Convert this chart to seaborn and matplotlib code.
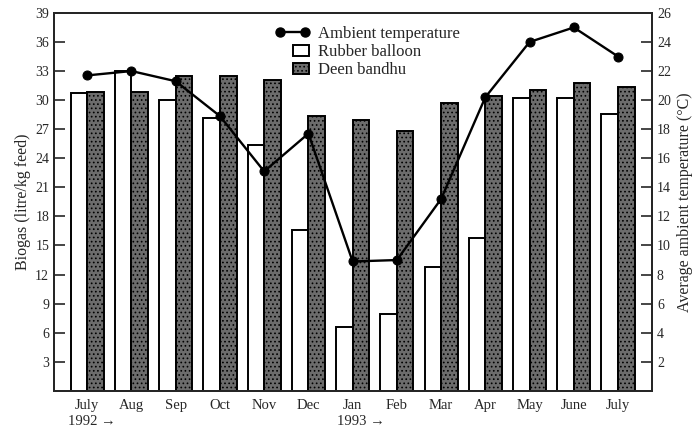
import numpy as np
import pandas as pd
import seaborn as sns
import matplotlib.pyplot as plt
from matplotlib.patches import Patch, Rectangle
from matplotlib.lines import Line2D
from matplotlib.legend_handler import HandlerPatch

months = ["July", "Aug", "Sep", "Oct", "Nov", "Dec", "Jan",
          "Feb", "Mar", "Apr", "May", "June", "July"]
month_keys = [f"{m}_{i}" for i, m in enumerate(months)]

rubber_balloon = [30.7, 33.0, 30.0, 28.2, 25.4, 16.6, 6.6,
                  7.9, 12.8, 15.8, 30.2, 30.2, 28.6]
deen_bandhu = [30.8, 30.8, 32.5, 32.5, 32.1, 28.4, 28.0,
               26.8, 29.7, 30.4, 31.0, 31.8, 31.4]
temperature = [21.7, 22.0, 21.3, 18.9, 15.1, 17.7, 8.9,
               9.0, 13.2, 20.2, 24.0, 25.0, 23.0]

df = pd.DataFrame({
    "month": month_keys * 2,
    "biogas": rubber_balloon + deen_bandhu,
    "digester": ["Rubber balloon"] * 13 + ["Deen bandhu"] * 13,
})

GRAY = "#6c6c6c"

sns.set_style("ticks")
plt.rcParams["font.family"] = ["Liberation Serif", "DejaVu Serif"]
plt.rcParams["hatch.linewidth"] = 0.7
plt.rcParams["hatch.color"] = "#1e1e1e"

fig = plt.figure(figsize=(6.93, 4.30), dpi=100)
ax = fig.add_axes([0.078, 0.091, 0.863, 0.879])

sns.barplot(data=df, x="month", y="biogas", hue="digester",
            order=month_keys, hue_order=["Rubber balloon", "Deen bandhu"],
            palette=["white", GRAY], edgecolor="black", linewidth=1.4,
            width=0.75, ax=ax, legend=False)

for patch in ax.patches[13:26]:
    patch.set_hatch("....")

ax.set_xlim(-0.75, 12.77)
ax.set_ylim(0, 39)
ax.set_yticks(range(3, 40, 3))
ax.set_xticks(range(13))
ax.set_xticklabels(months, fontsize=10.5)
ax.tick_params(axis="y", direction="in", length=8, width=1.2, labelsize=10)
ax.tick_params(axis="x", length=0, pad=6)
ax.set_xlabel("")
ax.set_ylabel("Biogas (litre/kg feed)", fontsize=11.5, labelpad=3)
for s in ax.spines.values():
    s.set_linewidth(1.4)

ax2 = ax.twinx()
sns.lineplot(x=np.arange(13), y=temperature, color="black", marker="o",
             markersize=6.5, markeredgecolor="black", linewidth=1.7, ax=ax2,
             legend=False)
ax2.set_ylim(0, 26)
ax2.set_yticks(range(2, 27, 2))
ax2.tick_params(axis="y", direction="in", length=8, width=1.2, labelsize=10)
ax2.set_ylabel("Average ambient temperature (°C)", fontsize=11.5, labelpad=4)
for s in ax2.spines.values():
    s.set_linewidth(1.4)

# year markers under the month labels
xform = ax.get_xaxis_transform()
ax.text(-0.43, -0.063, "1992 \u2192", transform=xform, ha="left", va="top",
        fontsize=10.5)
ax.text(5.65, -0.063, "1993 \u2192", transform=xform, ha="left", va="top",
        fontsize=10.5)


def small_box(legend, orig_handle, xdescent, ydescent, width, height, fontsize):
    w = height * 1.4
    return Rectangle((width - w - width * 0.02, -ydescent), w, height)


handles = [
    Line2D([0], [0], color="black", marker="o", markersize=6.5, linewidth=1.7),
    Patch(facecolor="white", edgecolor="black", linewidth=1.4),
    Patch(facecolor=GRAY, edgecolor="black", linewidth=1.4, hatch="...."),
]
ax2.legend(handles, ["Ambient temperature", "Rubber balloon", "Deen bandhu"],
           handler_map={Patch: HandlerPatch(patch_func=small_box)},
           loc="upper left", bbox_to_anchor=(0.347, 1.0), frameon=False,
           fontsize=12, numpoints=2, handlelength=2.1, handletextpad=0.5,
           labelspacing=0.12, borderaxespad=0.4)

fig.savefig("out.png", dpi=100)
